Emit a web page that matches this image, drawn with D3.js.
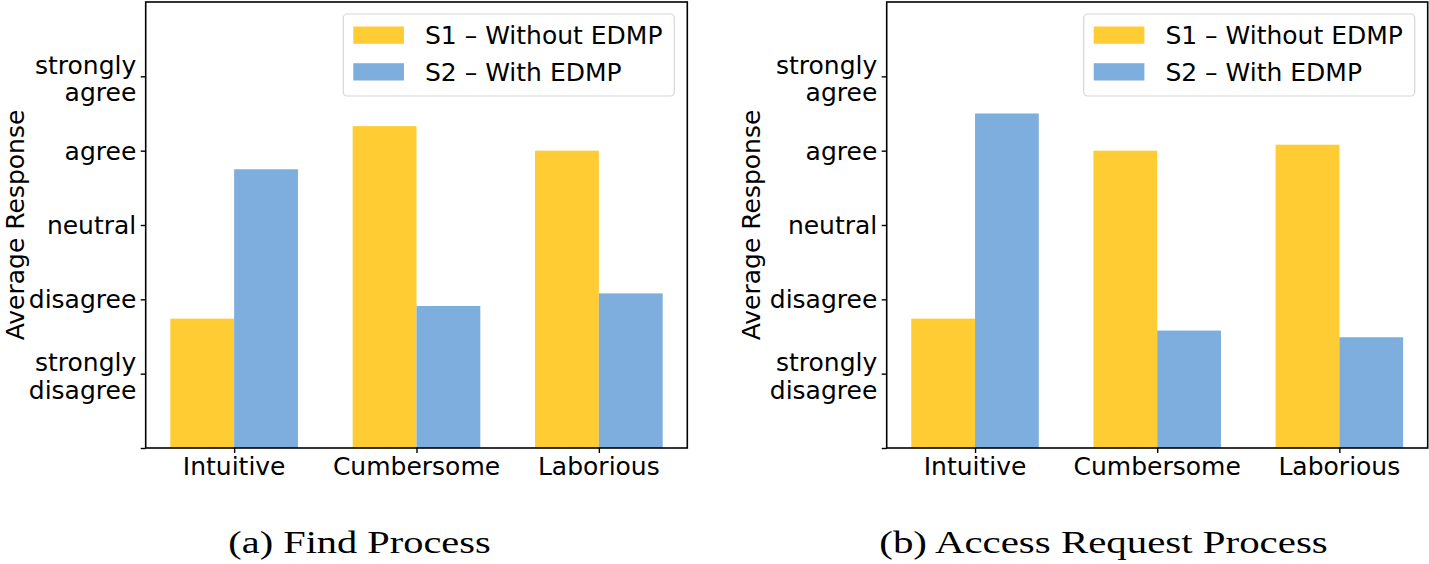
<!DOCTYPE html>
<html><head><meta charset="utf-8">
<script src="https://cdn.jsdelivr.net/npm/d3@7"></script>
<style>body{margin:0;background:#fff}svg{display:block}</style>
</head><body>
<script>
const categories = ["Intuitive", "Cumbersome", "Laborious"];
const seriesNames = ["S1 – Without EDMP", "S2 – With EDMP"];
const findS1 = [1.74, 4.33, 4.0];
const findS2 = [3.75, 1.91, 2.08];
const accessS1 = [1.74, 4.0, 4.08];
const accessS2 = [4.5, 1.58, 1.49];
const yTickValues = [0, 1, 2, 3, 4, 5];
const yTickLabels = ["", "strongly\ndisagree", "disagree", "neutral", "agree", "strongly\nagree"];
const captions = ["(a) Find Process", "(b) Access Request Process"];
const colors = ["#ffcc33", "#7daedd"];

const W = 1429, H = 564;
const svg = d3.select("body").append("svg").attr("width", W).attr("height", H)
  .style("font-family", "'DejaVu Sans', sans-serif");

const panels = [
  {x0: 145.7, x1: 687.3, s: [findS1, findS2], labelX: 23.5, cap: captions[0], capX: 228.3, capW: 262.4},
  {x0: 886.7, x1: 1427.7, s: [accessS1, accessS2], labelX: 760, cap: captions[1], capX: 879.3, capW: 448.4}
];
const yTop = 2, yBot = 448;
const barW = 0.35;

panels.forEach(p => {
  const g = svg.append("g");
  const x = d3.scaleLinear().domain([-0.485, 2.485]).range([p.x0, p.x1]);
  const y = d3.scaleLinear().domain([0, 6]).range([yBot, yTop]);

  // bars
  p.s.forEach((vals, si) => {
    g.selectAll(null).data(vals).enter().append("rect")
      .attr("x", (d, i) => x(i + (si === 0 ? -barW : 0)))
      .attr("width", x(barW) - x(0))
      .attr("y", d => y(d))
      .attr("height", d => y(0) - y(d))
      .attr("fill", colors[si]);
  });

  // y axis
  const yAxis = d3.axisLeft(y).tickValues(yTickValues).tickSize(5).tickFormat("");
  const ya = g.append("g").attr("transform", `translate(${p.x0},0)`).call(yAxis);
  ya.select(".domain").remove();
  ya.selectAll(".tick line").attr("stroke", "#000").attr("stroke-width", 1.4);
  yTickValues.forEach((v, i) => {
    const lines = yTickLabels[i].split("\n").filter(s => s.length);
    if (!lines.length) return;
    const t = g.append("text").attr("text-anchor", "end").attr("font-size", 25).attr("fill", "#000");
    const base = lines.length === 1 ? y(v) + 9 : y(v) - 2.5;
    lines.forEach((ln, li) => {
      t.append("tspan").attr("x", p.x0 - 9.4).attr("y", base + li * 27.5).text(ln);
    });
  });

  // x axis
  const xAxis = d3.axisBottom(x).tickValues([0, 1, 2]).tickSize(5).tickFormat("");
  const xa = g.append("g").attr("transform", `translate(0,${yBot})`).call(xAxis);
  xa.select(".domain").remove();
  xa.selectAll(".tick line").attr("stroke", "#000").attr("stroke-width", 1.4);
  categories.forEach((c, i) => {
    g.append("text").attr("x", x(i)).attr("y", 475).attr("text-anchor", "middle")
      .attr("font-size", 25).attr("fill", "#000").text(c);
  });

  // frame
  g.append("rect").attr("x", p.x0).attr("y", yTop).attr("width", p.x1 - p.x0).attr("height", yBot - yTop)
    .attr("fill", "none").attr("stroke", "#000").attr("stroke-width", 1.6);

  // y label
  g.append("text").attr("transform", `translate(${p.labelX},${(yTop + yBot) / 2}) rotate(-90)`)
    .attr("text-anchor", "middle").attr("font-size", 25).attr("fill", "#000").text("Average Response");

  // legend
  const lg = g.append("g");
  lg.append("rect").attr("x", p.x1 - 344).attr("y", 14).attr("width", 331).attr("height", 82)
    .attr("rx", 4).attr("fill", "#fff").attr("fill-opacity", 0.8).attr("stroke", "#d6d6d6").attr("stroke-width", 1.2);
  seriesNames.forEach((n, i) => {
    const cy = [35, 71.7][i];
    lg.append("rect").attr("x", p.x1 - 334).attr("y", cy - 8.5).attr("width", 50.7).attr("height", 17.3)
      .attr("fill", colors[i]);
    lg.append("text").attr("x", p.x1 - 262.3).attr("y", cy + 9).attr("font-size", 25).attr("fill", "#000").text(n);
  });

  // caption
  svg.append("text").attr("x", p.capX).attr("y", 552.5)
    .attr("font-family", "'Liberation Serif', 'DejaVu Serif', serif").attr("font-size", 31.5).attr("fill", "#000")
    .attr("textLength", p.capW).attr("lengthAdjust", "spacingAndGlyphs").text(p.cap);
});
</script>
</body></html>
